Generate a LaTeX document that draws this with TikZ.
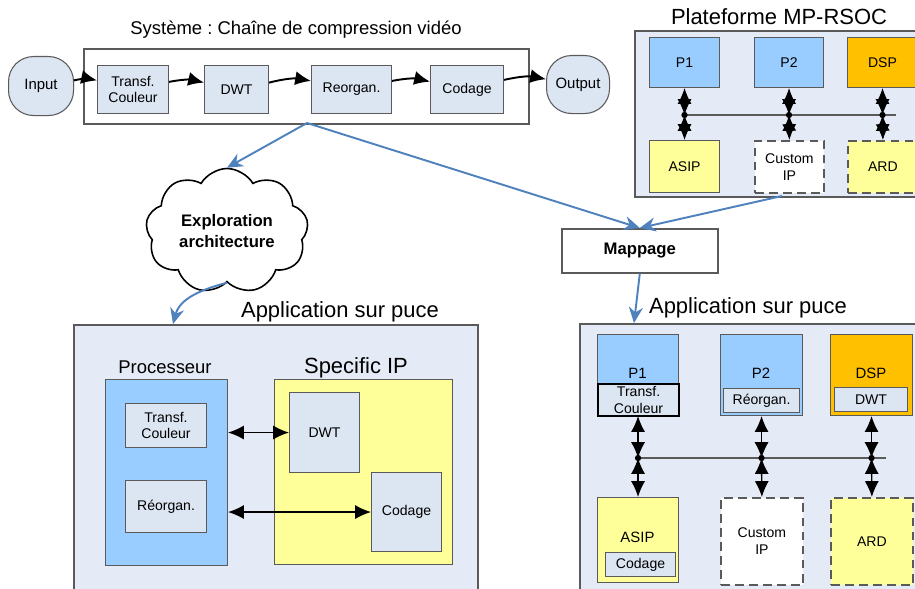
\documentclass[tikz,border=0pt]{standalone}
\usepackage{fontspec}
\setmainfont{Liberation Sans}
\frenchspacing
\usetikzlibrary{arrows.meta,shapes.symbols,calc}
\definecolor{boxgray}{RGB}{220,229,242}
\definecolor{panelbg}{RGB}{229,235,246}
\definecolor{procblue}{RGB}{153,204,255}
\definecolor{dsporange}{RGB}{255,192,0}
\definecolor{ipyellow}{RGB}{255,255,153}
\definecolor{linkblue}{RGB}{79,129,189}
\definecolor{edgegray}{RGB}{90,90,90}

\tikzset{
  tipd/.tip={Latex[length=9pt,width=8pt]},
  tipc/.tip={Latex[length=9pt,width=8pt]}
}

\begin{document}
\begin{tikzpicture}[x=0.02cm,y=0.02cm]
\tikzset{
  sz/.style 2 args={minimum width=#1*0.02cm, minimum height=#2*0.02cm},
  base/.style={anchor=north west, inner sep=1pt, align=center, line width=0.6pt, font=\fontsize{8}{9.5}\selectfont},
  blk/.style={base, draw=edgegray, fill=boxgray},
  panel/.style={base, draw=edgegray, fill=panelbg, line width=0.9pt},
  proc/.style={base, draw=edgegray, fill=procblue},
  dsp/.style={base, draw=edgegray, fill=dsporange},
  ipbox/.style={base, draw=edgegray, fill=ipyellow},
  dashbox/.style={base, draw=edgegray, line width=1pt, dash pattern=on 5pt off 3pt},
  io/.style={blk, rounded corners=0.5cm, font=\fontsize{8.5}{10}\selectfont},
  ttl/.style={font=\fontsize{12.5}{14}\selectfont},
  lbl/.style={font=\fontsize{8.5}{10}\selectfont},
  chain/.style={-tipc, line width=1.1pt, bend left=12},
  link/.style={-{Stealth[length=9pt,width=8pt]}, draw=linkblue, line width=1.1pt},
  dbl/.style={tipd-tipd, line width=0.8pt},
  bus/.style={draw=edgegray, line width=0.9pt}
}
\path[use as bounding box, clip] (0,0) rectangle (915,-588);

% chaine de compression
\node[font=\fontsize{10.5}{12}\selectfont] (systitle) at (296,-30) {Système : Chaîne de compression vidéo};
\node[base, draw=edgegray, fill=white, line width=0.9pt, sz={445}{75}] (sys) at (83,-48) {};
\node[io, sz={65}{59}] (inp) at (8,-56) {Input};
\node[blk, sz={71}{48}] (c1) at (97,-65) {Transf.\\Couleur};
\node[blk, sz={64}{48}] (c2) at (204,-65) {DWT};
\node[blk, sz={80}{48}] (c3) at (311,-65) {Reorgan.};
\node[blk, sz={73}{48}] (c4) at (430,-65) {Codage};
\node[io, sz={63}{58}] (outp) at (546,-55) {Output};

\draw[chain] (inp) to (c1);
\draw[chain] (c1) to (c2);
\draw[chain] (c2) to (c3);
\draw[chain] (c3) to (c4);
\draw[chain] (c4) to (outp);

% plateforme
\node[ttl] (plattitle) at (779,-17) {Plateforme MP-RSOC};
\node[panel, sz={300}{166}] (plat) at (634,-30) {};
\node[proc, sz={70}{50}] (pp1) at (649,-37) {P1};
\node[proc, sz={69}{50}] (pp2) at (754,-37) {P2};
\node[dsp, sz={70}{50}] (pdsp) at (847,-37) {DSP};
\node[ipbox, sz={70}{52}] (pasip) at (649,-140) {ASIP};
\node[dashbox, fill=white, sz={69}{52}] (pcust) at (754,-140) {Custom\\IP};
\node[dashbox, fill=ipyellow, sz={70}{52}] (pard) at (847,-140) {ARD};

\coordinate (pbus1) at (682,-115);
\coordinate (pbus2) at (896,-115);
\draw[bus] (pbus1) -- (pbus2);
\foreach \up/\dn/\j in {pp1/pasip/pj1, pp2/pcust/pj2, pdsp/pard/pj3} {
  \coordinate (\j) at (\up.south |- pbus1);
  \draw[dbl] (\up.south) -- (\j);
  \draw[dbl] (\j) -- (\dn.north);
  \fill (\j) circle (1.8pt);
}

% exploration / mappage
\node[cloud, draw=black, fill=white, line width=0.9pt, cloud puffs=9, cloud puff arc=120,
  aspect=1.5, minimum width=3cm, minimum height=2.1cm, align=center,
  font=\bfseries\fontsize{9.5}{11.5}\selectfont] (explo) at (227,-231) {Exploration\\architecture};
\node[base, draw=edgegray, fill=white, line width=0.9pt, sz={156}{44},
  font=\bfseries\fontsize{9.5}{11.5}\selectfont] (map) at (561,-228) {Mappage};

% application gauche
\node[ttl] (lapptitle) at (340,-312) {Application sur puce};
\node[panel, sz={404}{290}] (lapp) at (73,-324) {};
\node[font=\fontsize{10.5}{12}\selectfont] (proctitle) at (165,-367) {Processeur};
\node[proc, sz={122}{186}] (proc) at (105,-379) {};
\node[ttl] (siptitle) at (356,-368) {Specific IP};
\node[ipbox, sz={178}{185}] (sip) at (274,-379) {};
\node[blk, sz={81}{44}] (lt) at (125,-403) {Transf.\\Couleur};
\node[blk, sz={81}{52}] (lr) at (125,-480) {Réorgan.};
\node[blk, sz={70}{80}] (ld) at (289,-392) {DWT};
\node[blk, sz={70}{79}] (lc) at (371,-472) {Codage};

\draw[dbl] (proc.east |- ld.west) -- (ld.west);
\draw[dbl] (proc.east |- lc.west) -- (lc.west);

% application droite
\node[ttl] (rapptitle) at (748,-308) {Application sur puce};
\node[panel, sz={350}{290}] (rapp) at (579,-323) {};
\node[proc, sz={81}{81}] (rp1) at (597,-334) {};
\node[proc, sz={82}{81}] (rp2) at (720,-334) {};
\node[dsp, sz={82}{81}] (rdsp) at (830,-334) {};
\node[lbl] (rp1l) at (637.5,-373) {P1};
\node[lbl] (rp2l) at (761,-373) {P2};
\node[lbl] (rdspl) at (871,-373) {DSP};
\node[blk, draw=black, line width=1.2pt, sz={81}{32}] (rt) at (597,-383) {Transf.\\Couleur};
\node[blk, sz={76}{24}] (rr) at (723,-388) {Réorgan.};
\node[blk, sz={73}{24}] (rd) at (834,-387) {DWT};
\node[ipbox, sz={81}{85}] (rasip) at (597,-497) {};
\node[lbl] (rasipl) at (637.5,-537) {ASIP};
\node[blk, sz={70}{24}] (rc) at (605,-552) {Codage};
\node[dashbox, fill=white, sz={82}{87}] (rcust) at (720,-497) {Custom\\IP};
\node[dashbox, fill=ipyellow, sz={82}{87}] (rard) at (830,-497) {ARD};

\coordinate (rbus1) at (636,-458);
\coordinate (rbus2) at (886,-458);
\draw[bus] (rbus1) -- (rbus2);
\foreach \up/\dn/\j in {rp1/rasip/rj1, rp2/rcust/rj2, rdsp/rard/rj3} {
  \coordinate (\j) at (\up.south |- rbus1);
  \draw[dbl] (\up.south) -- (\j);
  \draw[dbl] (\j) -- (\dn.north);
  \fill (\j) circle (1.8pt);
}

% liens
\coordinate (sysb) at (307,-123);
\coordinate (platb) at (782,-196);
\coordinate (lappin) at (173,-324);
\coordinate (rappin) at (634,-323);
\draw[link] (sysb) -- (explo.north);
\draw[link] (sysb) -- (map.north);
\draw[link] (platb) -- (map.north);
\draw[link] (map.south) -- (rappin);
\draw[link] (explo.south) to[out=195,in=75] (lappin);
\end{tikzpicture}
\end{document}
